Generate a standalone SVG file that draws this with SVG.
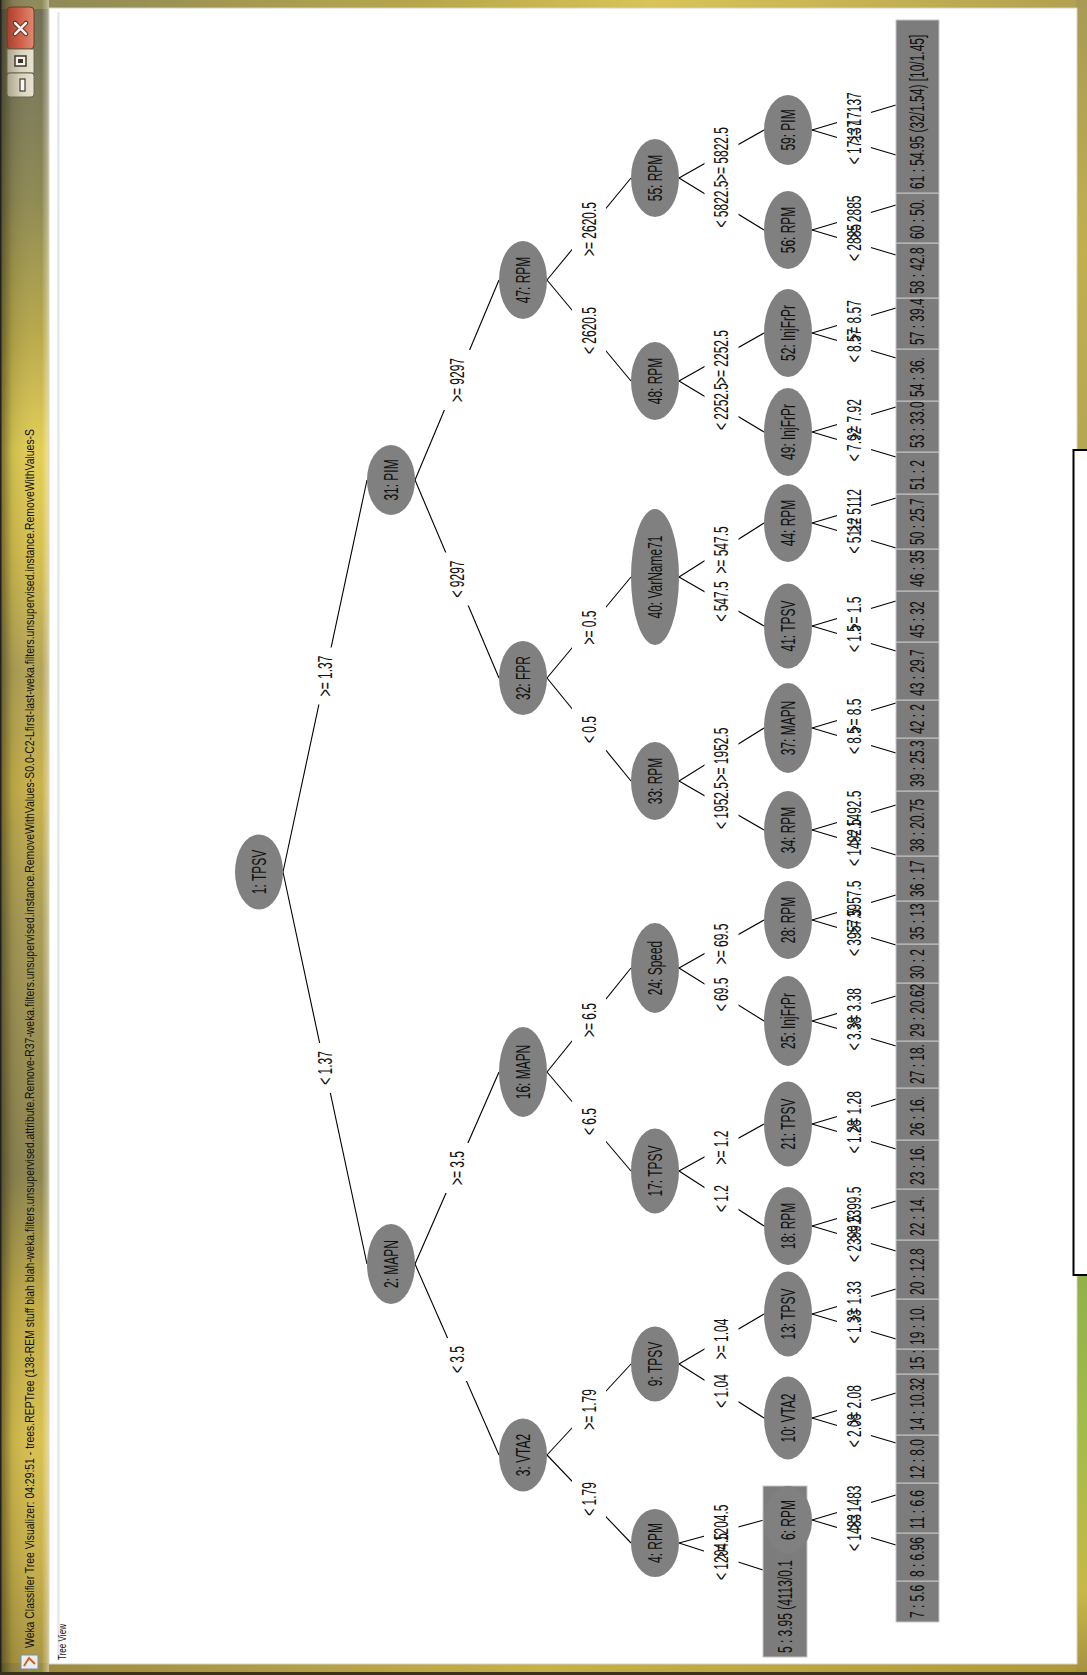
<svg xmlns="http://www.w3.org/2000/svg" width="1087" height="1675" viewBox="0 0 1087 1675">
<defs>
<linearGradient id="gL" x1="0" y1="0" x2="0" y2="1">
<stop offset="0" stop-color="#6f6e55"/><stop offset="0.06" stop-color="#7d7b58"/><stop offset="0.12" stop-color="#8f8a52"/><stop offset="0.2" stop-color="#b9a94a"/><stop offset="0.27" stop-color="#e3cf55"/><stop offset="0.33" stop-color="#d6c04e"/><stop offset="0.4" stop-color="#b3a458"/><stop offset="0.47" stop-color="#c9b24a"/><stop offset="0.55" stop-color="#a99c55"/><stop offset="0.63" stop-color="#9a8f52"/><stop offset="0.7" stop-color="#8c8550"/><stop offset="0.78" stop-color="#c4ae48"/><stop offset="0.86" stop-color="#d9c250"/><stop offset="0.93" stop-color="#c8b04a"/><stop offset="1" stop-color="#a89440"/>
</linearGradient>
<linearGradient id="gLs" x1="0" y1="0" x2="1" y2="0">
<stop offset="0" stop-color="#2a2614" stop-opacity="0.6"/><stop offset="0.25" stop-color="#2a2614" stop-opacity="0.12"/><stop offset="0.85" stop-color="#ffffff" stop-opacity="0"/><stop offset="1" stop-color="#fffff0" stop-opacity="0.45"/>
</linearGradient>
<linearGradient id="gR" x1="0" y1="0" x2="0" y2="1">
<stop offset="0" stop-color="#a89a55"/><stop offset="0.15" stop-color="#c2b04e"/><stop offset="0.27" stop-color="#b5a652"/><stop offset="0.74" stop-color="#8fae48"/><stop offset="0.85" stop-color="#a2bc4a"/><stop offset="0.95" stop-color="#c8b848"/><stop offset="1" stop-color="#a89040"/>
</linearGradient>
<linearGradient id="gT" x1="0" y1="0" x2="1" y2="0">
<stop offset="0" stop-color="#8a8658"/><stop offset="0.4" stop-color="#b8a84c"/><stop offset="0.6" stop-color="#d8c458"/><stop offset="1" stop-color="#b0a050"/>
</linearGradient>
<linearGradient id="gB" x1="0" y1="0" x2="1" y2="0">
<stop offset="0" stop-color="#9a8a40"/><stop offset="0.5" stop-color="#c8b048"/><stop offset="1" stop-color="#b09838"/>
</linearGradient>
<linearGradient id="gClose" x1="0" y1="0" x2="1" y2="0">
<stop offset="0" stop-color="#a8402c"/><stop offset="0.5" stop-color="#d0604a"/><stop offset="1" stop-color="#e08a70"/>
</linearGradient>
<linearGradient id="gBtn" x1="0" y1="0" x2="1" y2="0">
<stop offset="0" stop-color="#a9a48a"/><stop offset="0.5" stop-color="#d8d2bc"/><stop offset="1" stop-color="#e8e4d4"/>
</linearGradient>
</defs>
<style>
.t { font-family: "Liberation Sans", Arial, sans-serif; font-size: 21px; fill: #111; text-anchor: middle; dominant-baseline: central; }
.ts { font-family: "Liberation Sans", Arial, sans-serif; font-size: 21px; fill: #111; text-anchor: start; dominant-baseline: central; }
.node ellipse { fill: #808080; }
.leaf rect { fill: #7c7c7c; stroke: #c6c6c6; stroke-width: 1; }
#edges line { stroke: #000; stroke-width: 1.1; }
#labelboxes rect { fill: #fff; }
.chrome { font-family: "Liberation Sans", Arial, sans-serif; fill: #111; dominant-baseline: central; }
</style>

<!-- window chrome -->
<g id="frame">
<rect x="0" y="0" width="1087" height="1675" fill="url(#gL)"/>
<rect x="0" y="0" width="1087" height="9" fill="url(#gT)"/>
<rect x="0" y="1663" width="1087" height="12" fill="url(#gB)"/>
<rect x="1076" y="0" width="11" height="1675" fill="url(#gR)"/>
<rect x="0" y="0" width="49" height="1675" fill="url(#gLs)"/>
<rect x="0" y="0" width="1.5" height="1675" fill="#222"/>
<rect x="0" y="1672" width="1087" height="3" fill="#3a3220"/>
<rect x="49" y="8" width="1028" height="1656" fill="#ffffff" stroke="#d4d2c4" stroke-width="1"/>
<line x1="58.5" y1="12" x2="58.5" y2="1660" stroke="#dfe4ea" stroke-width="2"/>
<rect x="1073.5" y="450" width="20" height="825" fill="#ffffff" stroke="#000" stroke-width="2"/>
<rect x="7" y="7" width="27" height="42" rx="4" fill="url(#gClose)" stroke="#6e3a2a" stroke-width="1"/>
<path d="M15 23 L26 34 M26 23 L15 34" stroke="#4a2a20" stroke-width="4.5" stroke-linecap="round"/>
<path d="M15 23 L26 34 M26 23 L15 34" stroke="#f4f0ec" stroke-width="2.5" stroke-linecap="round"/>
<rect x="7" y="49" width="27" height="24" fill="url(#gBtn)" stroke="#6c6650" stroke-width="1"/>
<rect x="15" y="56" width="11" height="10" fill="#f4f2ea" stroke="#3c3a30" stroke-width="1.5"/>
<rect x="18" y="59" width="5" height="4" fill="#3c3a30"/>
<rect x="7" y="73" width="27" height="24" rx="3" fill="url(#gBtn)" stroke="#6c6650" stroke-width="1"/>
<rect x="20" y="79" width="5" height="12" fill="#f8f8f4" stroke="#3c3a30" stroke-width="1.2"/>
<rect x="21" y="1655" width="17" height="14" fill="#e8eef4" stroke="#7890a8" stroke-width="1"/>
<path d="M24 1666 L29 1658 L35 1664" stroke="#d06020" stroke-width="2" fill="none"/>
<text class="chrome" font-size="12.5" transform="translate(30,1648) rotate(-90)" textLength="1219" lengthAdjust="spacingAndGlyphs">Weka Classifier Tree Visualizer: 04:29:51 - trees.REPTree (138-REM stuff blah blah-weka.filters.unsupervised.attribute.Remove-R37-weka.filters.unsupervised.instance.RemoveWithValues-S0.0-C2-Lfirst-last-weka.filters.unsupervised.instance.RemoveWithValues-S</text>
<text class="chrome" font-size="11" transform="translate(62,1660) rotate(-90)" textLength="36" lengthAdjust="spacingAndGlyphs">Tree View</text>
</g>

<!-- connectors -->
<g id="edges">
<line x1="283" y1="872" x2="367" y2="1264"/>
<line x1="283" y1="872" x2="367" y2="480"/>
<line x1="415" y1="1264" x2="499" y2="1455"/>
<line x1="415" y1="1264" x2="499" y2="1072"/>
<line x1="415" y1="480" x2="499" y2="678"/>
<line x1="415" y1="480" x2="499" y2="280"/>
<line x1="547" y1="1455" x2="631" y2="1543"/>
<line x1="547" y1="1455" x2="631" y2="1364"/>
<line x1="547" y1="1072" x2="631" y2="1171"/>
<line x1="547" y1="1072" x2="631" y2="968"/>
<line x1="547" y1="678" x2="631" y2="781"/>
<line x1="547" y1="678" x2="631" y2="577"/>
<line x1="547" y1="280" x2="631" y2="381"/>
<line x1="547" y1="280" x2="631" y2="178"/>
<line x1="679" y1="1543" x2="763" y2="1570"/>
<line x1="679" y1="1543" x2="764" y2="1520"/>
<line x1="679" y1="1364" x2="764" y2="1418"/>
<line x1="679" y1="1364" x2="764" y2="1314"/>
<line x1="679" y1="1171" x2="764" y2="1226"/>
<line x1="679" y1="1171" x2="764" y2="1124"/>
<line x1="679" y1="968" x2="764" y2="1021"/>
<line x1="679" y1="968" x2="764" y2="920"/>
<line x1="679" y1="781" x2="764" y2="830"/>
<line x1="679" y1="781" x2="764" y2="728"/>
<line x1="679" y1="577" x2="764" y2="626"/>
<line x1="679" y1="577" x2="764" y2="523"/>
<line x1="679" y1="381" x2="764" y2="432"/>
<line x1="679" y1="381" x2="764" y2="333"/>
<line x1="679" y1="178" x2="764" y2="230"/>
<line x1="679" y1="178" x2="764" y2="130"/>
<line x1="812" y1="1520" x2="896" y2="1545"/>
<line x1="812" y1="1520" x2="896" y2="1495"/>
<line x1="812" y1="1418" x2="896" y2="1443"/>
<line x1="812" y1="1418" x2="896" y2="1393"/>
<line x1="812" y1="1314" x2="896" y2="1339"/>
<line x1="812" y1="1314" x2="896" y2="1289"/>
<line x1="812" y1="1226" x2="896" y2="1251"/>
<line x1="812" y1="1226" x2="896" y2="1201"/>
<line x1="812" y1="1124" x2="896" y2="1149"/>
<line x1="812" y1="1124" x2="896" y2="1099"/>
<line x1="812" y1="1021" x2="896" y2="1046"/>
<line x1="812" y1="1021" x2="896" y2="996"/>
<line x1="812" y1="920" x2="896" y2="945"/>
<line x1="812" y1="920" x2="896" y2="895"/>
<line x1="812" y1="830" x2="896" y2="855"/>
<line x1="812" y1="830" x2="896" y2="805"/>
<line x1="812" y1="728" x2="896" y2="753"/>
<line x1="812" y1="728" x2="896" y2="703"/>
<line x1="812" y1="626" x2="896" y2="651"/>
<line x1="812" y1="626" x2="896" y2="601"/>
<line x1="812" y1="523" x2="896" y2="548"/>
<line x1="812" y1="523" x2="896" y2="498"/>
<line x1="812" y1="432" x2="896" y2="457"/>
<line x1="812" y1="432" x2="896" y2="407"/>
<line x1="812" y1="333" x2="896" y2="358"/>
<line x1="812" y1="333" x2="896" y2="308"/>
<line x1="812" y1="230" x2="896" y2="255"/>
<line x1="812" y1="230" x2="896" y2="205"/>
<line x1="812" y1="130" x2="896" y2="155"/>
<line x1="812" y1="130" x2="896" y2="105"/>
</g>

<g id="labelboxes">
<rect x="308" y="1043" width="34" height="50"/>
<rect x="308" y="647.5" width="34" height="57"/>
<rect x="440" y="1338" width="34" height="43"/>
<rect x="440" y="1143" width="34" height="50"/>
<rect x="440" y="552.5" width="34" height="53"/>
<rect x="440" y="350" width="34" height="60"/>
<rect x="572" y="1474" width="34" height="50"/>
<rect x="572" y="1381" width="34" height="57"/>
<rect x="572" y="1100" width="34" height="43"/>
<rect x="572" y="995" width="34" height="50"/>
<rect x="572" y="708" width="34" height="43"/>
<rect x="572" y="602.5" width="34" height="50"/>
<rect x="572" y="299" width="34" height="63"/>
<rect x="572" y="194" width="34" height="70"/>
<rect x="704" y="1525" width="34" height="63"/>
<rect x="704.5" y="1496.5" width="34" height="70"/>
<rect x="704.5" y="1366" width="34" height="50"/>
<rect x="704.5" y="1310.5" width="34" height="57"/>
<rect x="704.5" y="1177" width="34" height="43"/>
<rect x="704.5" y="1122.5" width="34" height="50"/>
<rect x="704.5" y="969.5" width="34" height="50"/>
<rect x="704.5" y="915.5" width="34" height="57"/>
<rect x="704.5" y="774" width="34" height="63"/>
<rect x="704.5" y="719.5" width="34" height="70"/>
<rect x="704.5" y="573.5" width="34" height="56"/>
<rect x="704.5" y="518.5" width="34" height="63"/>
<rect x="704.5" y="375" width="34" height="63"/>
<rect x="704.5" y="322" width="34" height="70"/>
<rect x="704.5" y="172.5" width="34" height="63"/>
<rect x="704.5" y="119" width="34" height="70"/>
<rect x="837" y="1506" width="34" height="53"/>
<rect x="837" y="1477.5" width="34" height="60"/>
<rect x="837" y="1405.5" width="34" height="50"/>
<rect x="837" y="1377" width="34" height="57"/>
<rect x="837" y="1301.5" width="34" height="50"/>
<rect x="837" y="1273" width="34" height="57"/>
<rect x="837" y="1207" width="34" height="63"/>
<rect x="837" y="1178.5" width="34" height="70"/>
<rect x="837" y="1111.5" width="34" height="50"/>
<rect x="837" y="1083" width="34" height="57"/>
<rect x="837" y="1008.5" width="34" height="50"/>
<rect x="837" y="980" width="34" height="57"/>
<rect x="837" y="901" width="34" height="63"/>
<rect x="837" y="872.5" width="34" height="70"/>
<rect x="837" y="811" width="34" height="63"/>
<rect x="837" y="782.5" width="34" height="70"/>
<rect x="837" y="719" width="34" height="43"/>
<rect x="837" y="690.5" width="34" height="50"/>
<rect x="837" y="617" width="34" height="43"/>
<rect x="837" y="588.5" width="34" height="50"/>
<rect x="837" y="509" width="34" height="53"/>
<rect x="837" y="480.5" width="34" height="60"/>
<rect x="837" y="419.5" width="34" height="50"/>
<rect x="837" y="391" width="34" height="57"/>
<rect x="837" y="320.5" width="34" height="50"/>
<rect x="837" y="292" width="34" height="57"/>
<rect x="837" y="216" width="34" height="53"/>
<rect x="837" y="187.5" width="34" height="60"/>
<rect x="837" y="112.5" width="34" height="60"/>
<rect x="837" y="84" width="34" height="67"/>
</g>

<g id="labels">
<text class="t" transform="translate(325,1068) rotate(-90) scale(.57,1)">&lt; 1.37</text>
<text class="t" transform="translate(325,676) rotate(-90) scale(.57,1)">&gt;= 1.37</text>
<text class="t" transform="translate(457,1359.5) rotate(-90) scale(.57,1)">&lt; 3.5</text>
<text class="t" transform="translate(457,1168) rotate(-90) scale(.57,1)">&gt;= 3.5</text>
<text class="t" transform="translate(457,579) rotate(-90) scale(.57,1)">&lt; 9297</text>
<text class="t" transform="translate(457,380) rotate(-90) scale(.57,1)">&gt;= 9297</text>
<text class="t" transform="translate(589,1499) rotate(-90) scale(.57,1)">&lt; 1.79</text>
<text class="t" transform="translate(589,1409.5) rotate(-90) scale(.57,1)">&gt;= 1.79</text>
<text class="t" transform="translate(589,1121.5) rotate(-90) scale(.57,1)">&lt; 6.5</text>
<text class="t" transform="translate(589,1020) rotate(-90) scale(.57,1)">&gt;= 6.5</text>
<text class="t" transform="translate(589,729.5) rotate(-90) scale(.57,1)">&lt; 0.5</text>
<text class="t" transform="translate(589,627.5) rotate(-90) scale(.57,1)">&gt;= 0.5</text>
<text class="t" transform="translate(589,330.5) rotate(-90) scale(.57,1)">&lt; 2620.5</text>
<text class="t" transform="translate(589,229) rotate(-90) scale(.57,1)">&gt;= 2620.5</text>
<text class="t" transform="translate(721,1556.5) rotate(-90) scale(.57,1)">&lt; 1204.5</text>
<text class="t" transform="translate(721.5,1531.5) rotate(-90) scale(.57,1)">&gt;= 1204.5</text>
<text class="t" transform="translate(721.5,1391) rotate(-90) scale(.57,1)">&lt; 1.04</text>
<text class="t" transform="translate(721.5,1339) rotate(-90) scale(.57,1)">&gt;= 1.04</text>
<text class="t" transform="translate(721.5,1198.5) rotate(-90) scale(.57,1)">&lt; 1.2</text>
<text class="t" transform="translate(721.5,1147.5) rotate(-90) scale(.57,1)">&gt;= 1.2</text>
<text class="t" transform="translate(721.5,994.5) rotate(-90) scale(.57,1)">&lt; 69.5</text>
<text class="t" transform="translate(721.5,944) rotate(-90) scale(.57,1)">&gt;= 69.5</text>
<text class="t" transform="translate(721.5,805.5) rotate(-90) scale(.57,1)">&lt; 1952.5</text>
<text class="t" transform="translate(721.5,754.5) rotate(-90) scale(.57,1)">&gt;= 1952.5</text>
<text class="t" transform="translate(721.5,601.5) rotate(-90) scale(.57,1)">&lt; 547.5</text>
<text class="t" transform="translate(721.5,550) rotate(-90) scale(.57,1)">&gt;= 547.5</text>
<text class="t" transform="translate(721.5,406.5) rotate(-90) scale(.57,1)">&lt; 2252.5</text>
<text class="t" transform="translate(721.5,357) rotate(-90) scale(.57,1)">&gt;= 2252.5</text>
<text class="t" transform="translate(721.5,204) rotate(-90) scale(.57,1)">&lt; 5822.5</text>
<text class="t" transform="translate(721.5,154) rotate(-90) scale(.57,1)">&gt;= 5822.5</text>
<text class="t" transform="translate(854,1532.5) rotate(-90) scale(.57,1)">&lt; 1483</text>
<text class="t" transform="translate(854,1507.5) rotate(-90) scale(.57,1)">&gt;= 1483</text>
<text class="t" transform="translate(854,1430.5) rotate(-90) scale(.57,1)">&lt; 2.08</text>
<text class="t" transform="translate(854,1405.5) rotate(-90) scale(.57,1)">&gt;= 2.08</text>
<text class="t" transform="translate(854,1326.5) rotate(-90) scale(.57,1)">&lt; 1.33</text>
<text class="t" transform="translate(854,1301.5) rotate(-90) scale(.57,1)">&gt;= 1.33</text>
<text class="t" transform="translate(854,1238.5) rotate(-90) scale(.57,1)">&lt; 2399.5</text>
<text class="t" transform="translate(854,1213.5) rotate(-90) scale(.57,1)">&gt;= 2399.5</text>
<text class="t" transform="translate(854,1136.5) rotate(-90) scale(.57,1)">&lt; 1.28</text>
<text class="t" transform="translate(854,1111.5) rotate(-90) scale(.57,1)">&gt;= 1.28</text>
<text class="t" transform="translate(854,1033.5) rotate(-90) scale(.57,1)">&lt; 3.38</text>
<text class="t" transform="translate(854,1008.5) rotate(-90) scale(.57,1)">&gt;= 3.38</text>
<text class="t" transform="translate(854,932.5) rotate(-90) scale(.57,1)">&lt; 3957.5</text>
<text class="t" transform="translate(854,907.5) rotate(-90) scale(.57,1)">&gt;= 3957.5</text>
<text class="t" transform="translate(854,842.5) rotate(-90) scale(.57,1)">&lt; 1492.5</text>
<text class="t" transform="translate(854,817.5) rotate(-90) scale(.57,1)">&gt;= 1492.5</text>
<text class="t" transform="translate(854,740.5) rotate(-90) scale(.57,1)">&lt; 8.5</text>
<text class="t" transform="translate(854,715.5) rotate(-90) scale(.57,1)">&gt;= 8.5</text>
<text class="t" transform="translate(854,638.5) rotate(-90) scale(.57,1)">&lt; 1.5</text>
<text class="t" transform="translate(854,613.5) rotate(-90) scale(.57,1)">&gt;= 1.5</text>
<text class="t" transform="translate(854,535.5) rotate(-90) scale(.57,1)">&lt; 5112</text>
<text class="t" transform="translate(854,510.5) rotate(-90) scale(.57,1)">&gt;= 5112</text>
<text class="t" transform="translate(854,444.5) rotate(-90) scale(.57,1)">&lt; 7.92</text>
<text class="t" transform="translate(854,419.5) rotate(-90) scale(.57,1)">&gt;= 7.92</text>
<text class="t" transform="translate(854,345.5) rotate(-90) scale(.57,1)">&lt; 8.57</text>
<text class="t" transform="translate(854,320.5) rotate(-90) scale(.57,1)">&gt;= 8.57</text>
<text class="t" transform="translate(854,242.5) rotate(-90) scale(.57,1)">&lt; 2885</text>
<text class="t" transform="translate(854,217.5) rotate(-90) scale(.57,1)">&gt;= 2885</text>
<text class="t" transform="translate(854,142.5) rotate(-90) scale(.57,1)">&lt; 17137</text>
<text class="t" transform="translate(854,117.5) rotate(-90) scale(.57,1)">&gt;= 17137</text>
</g>

<!-- nodes -->
<g id="n1" class="node"><ellipse cx="259" cy="872" rx="24" ry="37.5"/><text class="t" transform="translate(259,872) rotate(-90) scale(.57,1)">1: TPSV</text></g>
<g id="n2" class="node"><ellipse cx="391" cy="1264" rx="24" ry="40"/><text class="t" transform="translate(391,1264) rotate(-90) scale(.57,1)">2: MAPN</text></g>
<g id="n3" class="node"><ellipse cx="523" cy="1455" rx="24" ry="36.5"/><text class="t" transform="translate(523,1455) rotate(-90) scale(.57,1)">3: VTA2</text></g>
<g id="n4" class="node"><ellipse cx="655" cy="1543" rx="24" ry="34"/><text class="t" transform="translate(655,1543) rotate(-90) scale(.57,1)">4: RPM</text></g>
<g id="n5" class="leaf"><rect x="763" y="1486" width="44" height="171"/><text class="ts" transform="translate(785,1653) rotate(-90) scale(.57,1)">5 : 3.95 (4113/0.1</text></g>
<g id="n6" class="node"><ellipse cx="788" cy="1520" rx="24" ry="34"/><text class="t" transform="translate(788,1520) rotate(-90) scale(.57,1)">6: RPM</text></g>
<g id="n9" class="node"><ellipse cx="655" cy="1364" rx="24" ry="37.5"/><text class="t" transform="translate(655,1364) rotate(-90) scale(.57,1)">9: TPSV</text></g>
<g id="n10" class="node"><ellipse cx="788" cy="1418" rx="24" ry="41.5"/><text class="t" transform="translate(788,1418) rotate(-90) scale(.57,1)">10: VTA2</text></g>
<g id="n13" class="node"><ellipse cx="788" cy="1314" rx="24" ry="42.5"/><text class="t" transform="translate(788,1314) rotate(-90) scale(.57,1)">13: TPSV</text></g>
<g id="n16" class="node"><ellipse cx="523" cy="1072" rx="24" ry="45"/><text class="t" transform="translate(523,1072) rotate(-90) scale(.57,1)">16: MAPN</text></g>
<g id="n17" class="node"><ellipse cx="655" cy="1171" rx="24" ry="42.5"/><text class="t" transform="translate(655,1171) rotate(-90) scale(.57,1)">17: TPSV</text></g>
<g id="n18" class="node"><ellipse cx="788" cy="1226" rx="24" ry="39"/><text class="t" transform="translate(788,1226) rotate(-90) scale(.57,1)">18: RPM</text></g>
<g id="n21" class="node"><ellipse cx="788" cy="1124" rx="24" ry="42.5"/><text class="t" transform="translate(788,1124) rotate(-90) scale(.57,1)">21: TPSV</text></g>
<g id="n24" class="node"><ellipse cx="655" cy="968" rx="24" ry="45"/><text class="t" transform="translate(655,968) rotate(-90) scale(.57,1)">24: Speed</text></g>
<g id="n25" class="node"><ellipse cx="788" cy="1021" rx="24" ry="45"/><text class="t" transform="translate(788,1021) rotate(-90) scale(.57,1)">25: InjFrPr</text></g>
<g id="n28" class="node"><ellipse cx="788" cy="920" rx="24" ry="39"/><text class="t" transform="translate(788,920) rotate(-90) scale(.57,1)">28: RPM</text></g>
<g id="n31" class="node"><ellipse cx="391" cy="480" rx="24" ry="35"/><text class="t" transform="translate(391,480) rotate(-90) scale(.57,1)">31: PIM</text></g>
<g id="n32" class="node"><ellipse cx="523" cy="678" rx="24" ry="37"/><text class="t" transform="translate(523,678) rotate(-90) scale(.57,1)">32: FPR</text></g>
<g id="n33" class="node"><ellipse cx="655" cy="781" rx="24" ry="39"/><text class="t" transform="translate(655,781) rotate(-90) scale(.57,1)">33: RPM</text></g>
<g id="n34" class="node"><ellipse cx="788" cy="830" rx="24" ry="39"/><text class="t" transform="translate(788,830) rotate(-90) scale(.57,1)">34: RPM</text></g>
<g id="n37" class="node"><ellipse cx="788" cy="728" rx="24" ry="45"/><text class="t" transform="translate(788,728) rotate(-90) scale(.57,1)">37: MAPN</text></g>
<g id="n40" class="node"><ellipse cx="655" cy="577" rx="24" ry="68"/><text class="t" transform="translate(655,577) rotate(-90) scale(.57,1)">40: VarName71</text></g>
<g id="n41" class="node"><ellipse cx="788" cy="626" rx="24" ry="42.5"/><text class="t" transform="translate(788,626) rotate(-90) scale(.57,1)">41: TPSV</text></g>
<g id="n44" class="node"><ellipse cx="788" cy="523" rx="24" ry="39"/><text class="t" transform="translate(788,523) rotate(-90) scale(.57,1)">44: RPM</text></g>
<g id="n47" class="node"><ellipse cx="523" cy="280" rx="24" ry="39"/><text class="t" transform="translate(523,280) rotate(-90) scale(.57,1)">47: RPM</text></g>
<g id="n48" class="node"><ellipse cx="655" cy="381" rx="24" ry="39"/><text class="t" transform="translate(655,381) rotate(-90) scale(.57,1)">48: RPM</text></g>
<g id="n49" class="node"><ellipse cx="788" cy="432" rx="24" ry="44"/><text class="t" transform="translate(788,432) rotate(-90) scale(.57,1)">49: InjFrPr</text></g>
<g id="n52" class="node"><ellipse cx="788" cy="333" rx="24" ry="44"/><text class="t" transform="translate(788,333) rotate(-90) scale(.57,1)">52: InjFrPr</text></g>
<g id="n55" class="node"><ellipse cx="655" cy="178" rx="24" ry="39"/><text class="t" transform="translate(655,178) rotate(-90) scale(.57,1)">55: RPM</text></g>
<g id="n56" class="node"><ellipse cx="788" cy="230" rx="24" ry="39"/><text class="t" transform="translate(788,230) rotate(-90) scale(.57,1)">56: RPM</text></g>
<g id="n59" class="node"><ellipse cx="788" cy="130" rx="24" ry="35"/><text class="t" transform="translate(788,130) rotate(-90) scale(.57,1)">59: PIM</text></g>

<!-- leaves bar -->
<g id="n7" class="leaf"><rect x="896" y="1581" width="43" height="41"/><text class="ts" transform="translate(917.5,1618) rotate(-90) scale(.57,1)">7 : 5.6</text></g>
<g id="n8" class="leaf"><rect x="896" y="1533" width="43" height="48"/><text class="ts" transform="translate(917.5,1577) rotate(-90) scale(.57,1)">8 : 6.96</text></g>
<g id="n11" class="leaf"><rect x="896" y="1483" width="43" height="50"/><text class="ts" transform="translate(917.5,1529) rotate(-90) scale(.57,1)">11 : 6.6</text></g>
<g id="n12" class="leaf"><rect x="896" y="1435" width="43" height="48"/><text class="ts" transform="translate(917.5,1479) rotate(-90) scale(.57,1)">12 : 8.0</text></g>
<g id="n14" class="leaf"><rect x="896" y="1374" width="43" height="61"/><text class="ts" transform="translate(917.5,1431) rotate(-90) scale(.57,1)">14 : 10.32</text></g>
<g id="n15" class="leaf"><rect x="896" y="1349" width="43" height="25"/><text class="ts" transform="translate(917.5,1370) rotate(-90) scale(.57,1)">15 :</text></g>
<g id="n19" class="leaf"><rect x="896" y="1299" width="43" height="50"/><text class="ts" transform="translate(917.5,1345) rotate(-90) scale(.57,1)">19 : 10.</text></g>
<g id="n20" class="leaf"><rect x="896" y="1240" width="43" height="59"/><text class="ts" transform="translate(917.5,1295) rotate(-90) scale(.57,1)">20 : 12.8</text></g>
<g id="n22" class="leaf"><rect x="896" y="1189" width="43" height="51"/><text class="ts" transform="translate(917.5,1236) rotate(-90) scale(.57,1)">22 : 14.</text></g>
<g id="n23" class="leaf"><rect x="896" y="1140" width="43" height="49"/><text class="ts" transform="translate(917.5,1185) rotate(-90) scale(.57,1)">23 : 16.</text></g>
<g id="n26" class="leaf"><rect x="896" y="1088" width="43" height="52"/><text class="ts" transform="translate(917.5,1136) rotate(-90) scale(.57,1)">26 : 16.</text></g>
<g id="n27" class="leaf"><rect x="896" y="1041" width="43" height="47"/><text class="ts" transform="translate(917.5,1084) rotate(-90) scale(.57,1)">27 : 18.</text></g>
<g id="n29" class="leaf"><rect x="896" y="983" width="43" height="58"/><text class="ts" transform="translate(917.5,1037) rotate(-90) scale(.57,1)">29 : 20.62</text></g>
<g id="n30" class="leaf"><rect x="896" y="944" width="43" height="39"/><text class="ts" transform="translate(917.5,979) rotate(-90) scale(.57,1)">30 : 2</text></g>
<g id="n35" class="leaf"><rect x="896" y="901" width="43" height="43"/><text class="ts" transform="translate(917.5,940) rotate(-90) scale(.57,1)">35 : 13</text></g>
<g id="n36" class="leaf"><rect x="896" y="856" width="43" height="45"/><text class="ts" transform="translate(917.5,897) rotate(-90) scale(.57,1)">36 : 17</text></g>
<g id="n38" class="leaf"><rect x="896" y="791" width="43" height="65"/><text class="ts" transform="translate(917.5,852) rotate(-90) scale(.57,1)">38 : 20.75</text></g>
<g id="n39" class="leaf"><rect x="896" y="738" width="43" height="53"/><text class="ts" transform="translate(917.5,787) rotate(-90) scale(.57,1)">39 : 25.3</text></g>
<g id="n42" class="leaf"><rect x="896" y="700" width="43" height="38"/><text class="ts" transform="translate(917.5,734) rotate(-90) scale(.57,1)">42 : 2</text></g>
<g id="n43" class="leaf"><rect x="896" y="642" width="43" height="58"/><text class="ts" transform="translate(917.5,696) rotate(-90) scale(.57,1)">43 : 29.7</text></g>
<g id="n45" class="leaf"><rect x="896" y="591" width="43" height="51"/><text class="ts" transform="translate(917.5,638) rotate(-90) scale(.57,1)">45 : 32</text></g>
<g id="n46" class="leaf"><rect x="896" y="549" width="43" height="42"/><text class="ts" transform="translate(917.5,587) rotate(-90) scale(.57,1)">46 : 35</text></g>
<g id="n50" class="leaf"><rect x="896" y="494" width="43" height="55"/><text class="ts" transform="translate(917.5,545) rotate(-90) scale(.57,1)">50 : 25.7</text></g>
<g id="n51" class="leaf"><rect x="896" y="452" width="43" height="42"/><text class="ts" transform="translate(917.5,490) rotate(-90) scale(.57,1)">51 : 2</text></g>
<g id="n53" class="leaf"><rect x="896" y="401" width="43" height="51"/><text class="ts" transform="translate(917.5,448) rotate(-90) scale(.57,1)">53 : 33.0</text></g>
<g id="n54" class="leaf"><rect x="896" y="349" width="43" height="52"/><text class="ts" transform="translate(917.5,397) rotate(-90) scale(.57,1)">54 : 36.</text></g>
<g id="n57" class="leaf"><rect x="896" y="298" width="43" height="51"/><text class="ts" transform="translate(917.5,345) rotate(-90) scale(.57,1)">57 : 39.4</text></g>
<g id="n58" class="leaf"><rect x="896" y="243" width="43" height="55"/><text class="ts" transform="translate(917.5,294) rotate(-90) scale(.57,1)">58 : 42.8</text></g>
<g id="n60" class="leaf"><rect x="896" y="193" width="43" height="50"/><text class="ts" transform="translate(917.5,239) rotate(-90) scale(.57,1)">60 : 50.</text></g>
<g id="n61" class="leaf"><rect x="896" y="20" width="43" height="173"/><text class="ts" transform="translate(917.5,189) rotate(-90) scale(.57,1)">61 : 54.95 (32/1.54) [10/1.45]</text></g>
</svg>
